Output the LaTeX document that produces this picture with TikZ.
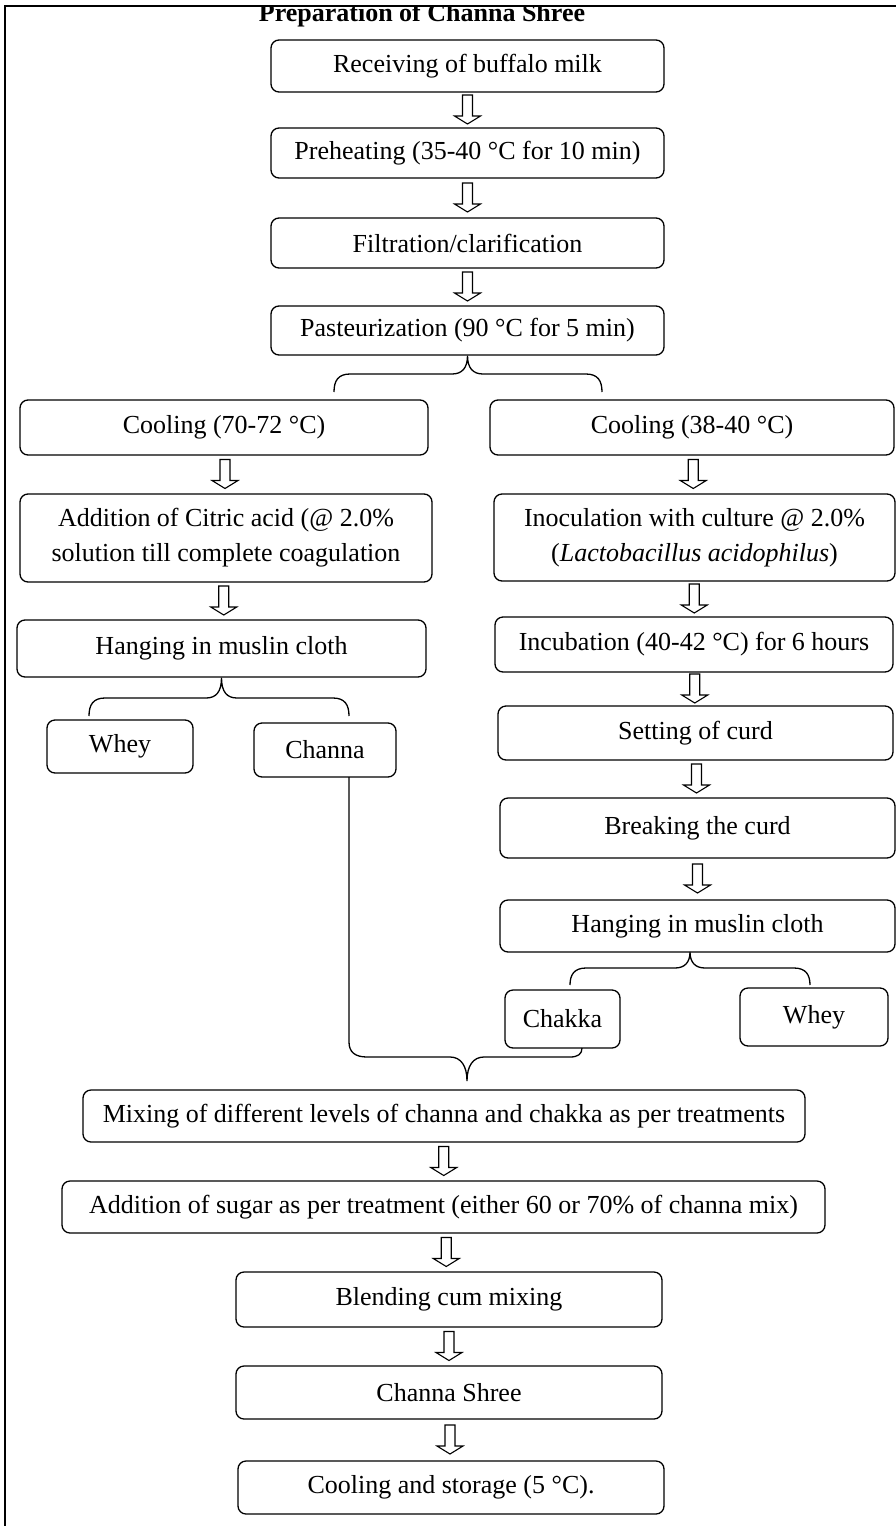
\documentclass[tikz,border=0pt]{standalone}
\usepackage{fontspec}
\setmainfont{Liberation Serif}
\usetikzlibrary{calc}
\begin{document}
\begin{tikzpicture}[x=1pt,y=-1pt,
  box/.style={draw, line width=1.3pt, rounded corners=8pt, align=center, inner sep=0pt,
    font=\fontsize{26}{35}\selectfont},
  brace/.style={draw, line width=1.3pt},
  harrow/.pic={\draw[line width=1.1pt, fill=white] (-5,-15) -- (5,-15) -- (5,6) -- (13,6) -- (0,14) -- (-13,6) -- (-5,6) -- cycle;}]
\useasboundingbox (0,0) rectangle (896,1526);
\node[font=\bfseries\fontsize{26}{30}\selectfont, anchor=base] (title) at (422,21) {Preparation of Channa Shree};
\fill[white] (0,0) rectangle (896,6);
\draw[line width=1.2pt] (5,1526) -- (5,6) -- (896,6);
% main column top
\node[box, minimum width=393pt, minimum height=52pt] (n1) at (467.5,66) {Receiving of buffalo milk};
\node[box, minimum width=393pt, minimum height=50pt] (n2) at (467.5,153) {Preheating (35-40 °C for 10 min)};
\node[box, minimum width=393pt, minimum height=50pt] (n3) at (467.5,243) {Filtration/clarification};
\node[box, minimum width=393pt, minimum height=49pt] (n4) at (467.5,330.5) {Pasteurization (90 °C for 5 min)};
% left column
\node[box, minimum width=408pt, minimum height=55pt] (L1) at (224,427.5) {Cooling (70-72 °C)};
\node[box, minimum width=412pt, minimum height=88pt] (L2) at (226,538) {Addition of Citric acid (@ 2.0\%\\solution till complete coagulation};
\node[box, minimum width=409pt, minimum height=57pt] (L3) at (221.5,648.5) {Hanging in muslin cloth};
\node[box, minimum width=146pt, minimum height=53pt] (L4) at (120,746.5) {Whey};
\node[box, minimum width=142pt, minimum height=54pt] (L5) at (325,750) {Channa};
% right column
\node[box, minimum width=404pt, minimum height=55pt] (R1) at (692,427.5) {Cooling (38-40 °C)};
\node[box, minimum width=401pt, minimum height=87pt] (R2) at (694.5,537.5) {Inoculation with culture @ 2.0\%\\(\textit{Lactobacillus acidophilus})};
\node[box, minimum width=398pt, minimum height=55pt] (R3) at (694,644.5) {Incubation (40-42 °C) for 6 hours};
\node[box, minimum width=395pt, minimum height=54pt] (R4) at (695.5,733) {Setting of curd};
\node[box, minimum width=395pt, minimum height=60pt] (R5) at (697.5,828) {Breaking the curd};
\node[box, minimum width=395pt, minimum height=52pt] (R6) at (697.5,926) {Hanging in muslin cloth};
\node[box, minimum width=115pt, minimum height=58pt] (R7) at (562.5,1019) {Chakka};
\node[box, minimum width=148pt, minimum height=58pt] (R8) at (814,1017) {Whey};
% bottom column
\node[box, minimum width=722pt, minimum height=52pt] (M1) at (444,1116) {Mixing of different levels of channa and chakka as per treatments};
\node[box, minimum width=763pt, minimum height=52pt] (M2) at (443.5,1207) {Addition of sugar as per treatment (either 60 or 70\% of channa mix)};
\node[box, minimum width=426pt, minimum height=55pt] (M3) at (449,1299.5) {Blending cum mixing};
\node[box, minimum width=426pt, minimum height=53pt] (M4) at (449,1392.5) {Channa Shree};
\node[box, minimum width=426pt, minimum height=53pt] (M5) at (451,1487.5) {Cooling and storage (5 °C).};
% hollow arrows
\foreach \a/\b in {n1/n2,n2/n3,n3/n4,L1/L2,L2/L3,R1/R2,R2/R3,R3/R4,R4/R5,R5/R6,M1/M2,M2/M3,M3/M4,M4/M5}
  \pic at ($(\a.south)!0.5!(\b.north)$) {harrow};
% braces
\coordinate (b1l) at (334,392);
\coordinate (b1r) at (602,392);
\draw[brace] (b1l) .. controls (334,381) and (338,374) .. (350,374) -- (452,374)
  .. controls (462,374) and (467.5,368) .. (n4.south)
  .. controls (467.5,368) and (473,374) .. (483,374) -- (586,374)
  .. controls (598,374) and (602,381) .. (b1r);
\coordinate (b2l) at (89,716);
\coordinate (b2r) at (349,716);
\draw[brace] (b2l) .. controls (89,705) and (93,698) .. (105,698) -- (206,698)
  .. controls (216,698) and (221.5,692) .. (L3.south)
  .. controls (221.5,692) and (227,698) .. (237,698) -- (333,698)
  .. controls (345,698) and (349,705) .. (b2r);
\coordinate (b3t) at (690,952);
\coordinate (b3l) at (570,985);
\coordinate (b3r) at (810,985);
\draw[brace] (b3l) .. controls (570,975) and (574,968) .. (586,968) -- (675,968)
  .. controls (685,968) and (690,962) .. (b3t)
  .. controls (690,962) and (695,968) .. (705,968) -- (794,968)
  .. controls (806,968) and (810,975) .. (b3r);
\coordinate (b4s) at (349,777);
\coordinate (b4t) at (467,1081);
\coordinate (b4e) at (582,1048);
\draw[brace] (b4s) -- (349,1042) .. controls (349,1052) and (355,1057) .. (367,1057) -- (450,1057)
  .. controls (461,1057) and (467,1066) .. (b4t)
  .. controls (467,1066) and (473,1057) .. (484,1057) -- (570,1057)
  .. controls (578,1057) and (582,1054) .. (b4e);
\end{tikzpicture}
\end{document}
